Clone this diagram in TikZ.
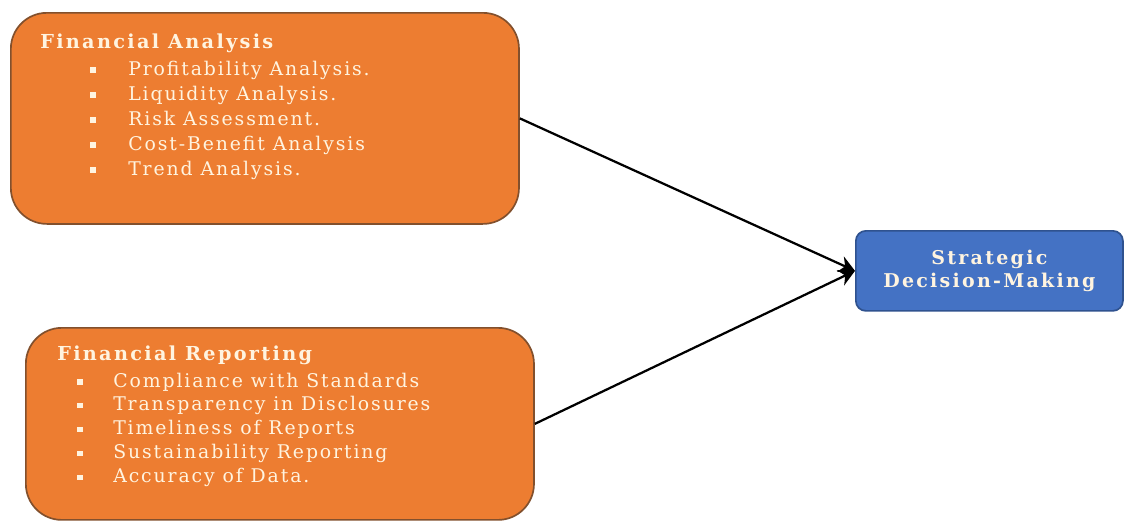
\documentclass[tikz,border=0pt]{standalone}
\usepackage{fontspec}
\setmainfont{DejaVu Serif}
\newfontfamily\itemfont{DejaVu Serif}[LetterSpace=10]
\newfontfamily\headfont{DejaVu Serif}[LetterSpace=12]
\usetikzlibrary{arrows.meta}
\definecolor{boxorange}{RGB}{237,125,49}
\definecolor{orangeedge}{RGB}{130,80,45}
\definecolor{boxblue}{RGB}{68,114,196}
\definecolor{blueedge}{RGB}{47,82,143}
\definecolor{cream}{RGB}{255,244,224}

\begin{document}
\begin{tikzpicture}[x=0.025cm, y=-0.025cm,
  orangebox/.style={draw=orangeedge, fill=boxorange, line width=1.2pt,
    rounded corners=0.9cm, anchor=north west, inner sep=0pt},
  bluebox/.style={draw=blueedge, fill=boxblue, line width=1.2pt,
    rounded corners=0.25cm, anchor=north west, inner sep=0pt},
  headtext/.style={anchor=base west, inner sep=0pt, text=cream,
    font=\headfont\fontsize{13.7}{16}\selectfont\bfseries},
  itemtext/.style={anchor=base west, inner sep=0pt, text=cream,
    font=\itemfont\fontsize{13.4}{15}\selectfont},
  bulletmark/.style={fill=cream, inner sep=0pt, minimum size=0.13cm},
  link/.style={line width=1.6pt, -{Stealth[length=0.4cm, width=0.42cm]}}]
  \useasboundingbox (0,0) rectangle (1124,522);

  % boxes
  \node[orangebox, minimum width=12.7cm, minimum height=5.275cm] (fa) at (10,12) {};
  \node[orangebox, minimum width=12.7cm, minimum height=4.8cm] (fr) at (25,327) {};
  \node[bluebox, minimum width=6.675cm, minimum height=2cm] (sdm) at (855,230) {};

  % financial analysis
  \node[headtext] (fahead) at (40,48) {Financial Analysis};
  \foreach \txt [count=\i] in {Profitability Analysis., Liquidity Analysis.,
      Risk Assessment., Cost-Benefit Analysis, Trend Analysis.} {
    \node[bulletmark] (fab\i) at (93,{70+25*(\i-1)}) {};
    \node[itemtext] (fai\i) at (128,{75+25*(\i-1)}) {\txt};
  }

  % financial reporting
  \node[headtext] (frhead) at (57,360) {Financial Reporting};
  \foreach \txt [count=\i] in {Compliance with Standards, Transparency in Disclosures,
      Timeliness of Reports, Sustainability Reporting, Accuracy of Data.} {
    \node[bulletmark] (frb\i) at (80,{382+23.8*(\i-1)}) {};
    \node[itemtext] (fri\i) at (113,{387+23.8*(\i-1)}) {\txt};
  }

  % decision
  \node[text=cream, font=\headfont\fontsize{13.5}{16}\selectfont\bfseries, align=center]
    (sdmtext) at (sdm.center) {Strategic\\Decision-Making};

  \draw[link] (fa.east) -- (sdm.west);
  \draw[link] (fr.east) -- (sdm.west);
\end{tikzpicture}
\end{document}
